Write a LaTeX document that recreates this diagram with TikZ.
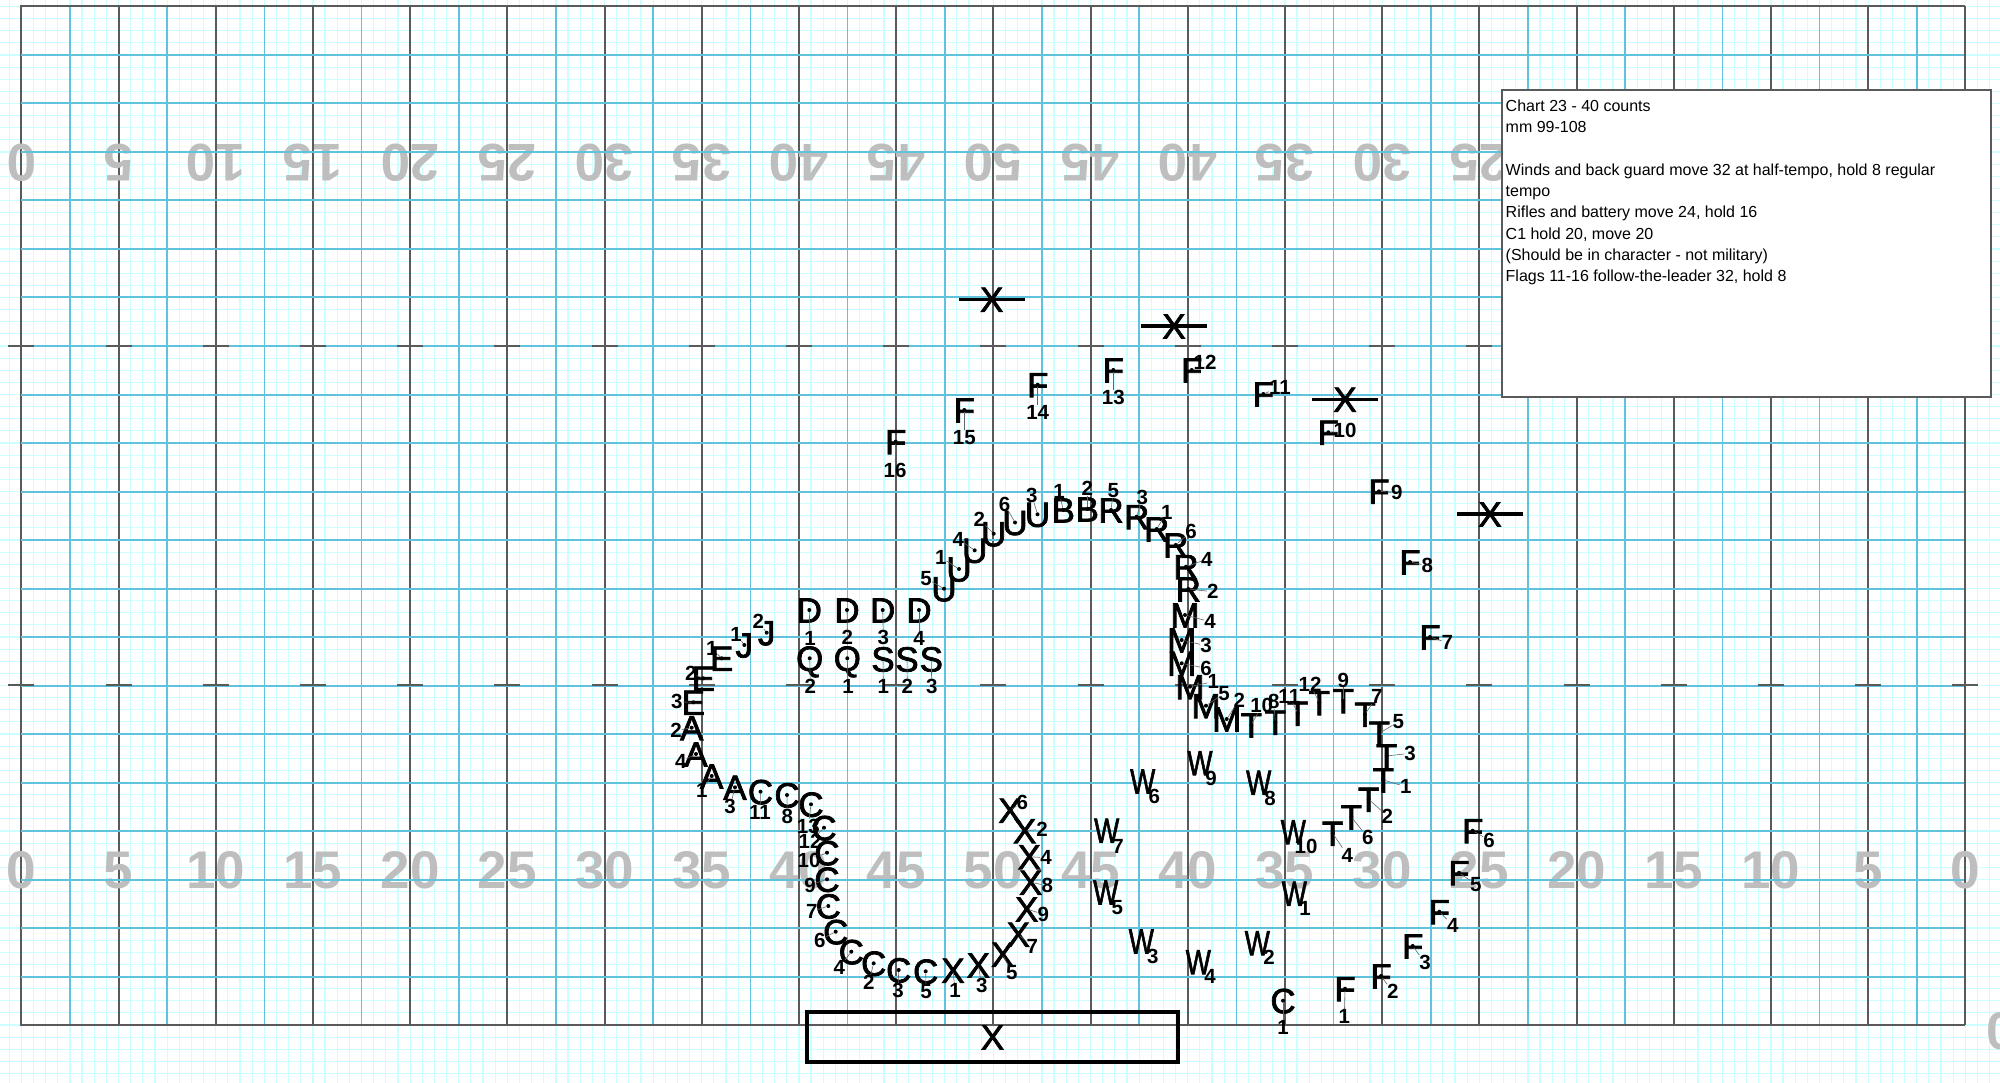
\documentclass[tikz,border=0pt]{standalone}
\usepackage{fontspec}
\setmainfont{Liberation Sans}
\newfontfamily\markfont[FakeBold=2]{Liberation Sans}
\definecolor{gridminor}{HTML}{CCFFFF}
\definecolor{gridmajor}{HTML}{60C2DC}
\definecolor{yardline}{HTML}{5A5A5A}
\definecolor{yardnum}{HTML}{BEBEBE}
\tikzset{
  glyph/.style={inner sep=0pt, text height=25pt, text depth=0pt, font=\fontsize{35}{35}\markfont},
  tag/.style={inner sep=0pt, font=\fontsize{20.5}{20.5}\selectfont\bfseries},
  yard/.style={inner sep=0pt, text=yardnum, font=\fontsize{53}{53}\selectfont\bfseries},
  spot/.style={circle, fill=black, inner sep=0pt, minimum size=4pt},
  leader/.style={draw=black!60, line width=.6pt},
  bar/.style={line width=3.5pt},
  guard/.style={glyph, minimum width=65.4pt}
}
% one marcher: name, spot x, spot y, letter, number x, number y, number
\newcommand{\marcher}[7]{%
  \node[spot] (#1) at (#2,#3) {};
  \node[glyph] at (#1) {#4};
  \node[tag] (#1n) at (#5,#6) {#7};
  \draw[leader] (#1) -- (#1n);
}
% winds have a narrow letter and no spot
\newcommand{\wind}[6]{%
  \node[glyph] (#1) at (#2,#3) {\scalebox{.76}[1]{W}};
  \node[tag] (#1n) at (#4,#5) {#6};
}
\begin{document}
\begin{tikzpicture}[x=1pt, y=-1pt]
  \useasboundingbox (0,0) rectangle (2000,1083);
  % minor grid
  \foreach \k in {-1,...,163}
    \draw[gridminor, line width=1.2pt] ({21.3+12.15*\k},0) -- ({21.3+12.15*\k},1083);
  \foreach \k in {0,...,88}
    \draw[gridminor, line width=1.2pt] (0,{6.5+12.125*\k}) -- (2000,{6.5+12.125*\k});
  % yard lines
  \foreach \k in {0,...,20}
    \draw[yardline, line width=2pt] ({21.3+97.2*\k},6.5) -- ({21.3+97.2*\k},1025);
  % yard numbers
  \foreach \n [count=\k from 0] in {0,5,10,15,20,25,30,35,40,45,50,45,40,35,30,25,20,15,10,5,0} {
    \node[yard] (low\k) at ({21.3+97.2*\k},870.5) {\n};
    \node[yard, rotate=180] (up\k) at ({21.3+97.2*\k},162.5) {\n};
  }
  \node[yard] (edge0) at (2001.5,1031) {0};
  % major grid
  \foreach \k in {0,...,19}
    \draw[gridmajor, line width=1.7pt] ({70+97.2*\k},6.5) -- ({70+97.2*\k},1025);
  \foreach \k in {1,...,20}
    \draw[gridmajor, line width=2pt] (21.3,{6.5+48.5*\k}) -- (1964,{6.5+48.5*\k});
  % hashes and field edges
  \foreach \k in {0,...,20} {
    \draw[yardline, line width=2.2pt] ({8.3+97.2*\k},346) -- ({34.3+97.2*\k},346);
    \draw[yardline, line width=2.2pt] ({8.3+97.2*\k},685) -- ({34.3+97.2*\k},685);
  }
  \draw[yardline, line width=2pt] (20.3,6.5) -- (1965.3,6.5);
  \draw[yardline, line width=2pt] (20.3,1025) -- (1965.3,1025);
  % chart note
  \node[draw=yardline, line width=2pt, fill=white, minimum width=489pt, minimum height=307pt, inner sep=0pt] (note) at (1746.5,243.5) {};
  \node[anchor=north west, inner sep=0pt, align=left, font=\fontsize{16}{21.3}\selectfont] (notetext) at (1505.5,99.5) {Chart 23 - 40 counts\\mm 99-108\\[21.3pt]Winds and back guard move 32 at half-tempo, hold 8 regular\\tempo\\Rifles and battery move 24, hold 16\\C1 hold 20, move 20\\(Should be in character - not military)\\Flags 11-16 follow-the-leader 32, hold 8};
  % podium
  \node[draw, line width=4pt, minimum width=371.6pt, minimum height=49.4pt, inner sep=0pt] (podium) at (992.5,1037) {};
  \node[glyph] (podiumX) at (podium) {X};
  % front guards with bars
  \node[guard] (G1) at (991.7,299.3) {X};
  \node[guard] (G2) at (1174,326) {X};
  \node[guard] (G3) at (1345,399.3) {X};
  \node[guard] (G4) at (1490,514) {X};
  \foreach \g in {G1,G2,G3,G4}
    \draw[bar] (\g.west) -- (\g.east);
  % flags
  \marcher{F1}{1345}{988.7}{F}{1344.3}{1016.7}{1}
  \marcher{F2}{1381}{976}{F}{1392.7}{991.7}{2}
  \marcher{F3}{1412.7}{946}{F}{1425}{962.7}{3}
  \marcher{F4}{1439.3}{911.7}{F}{1452.7}{925}{4}
  \marcher{F5}{1459}{872.7}{F}{1475.7}{884.3}{5}
  \marcher{F6}{1472.7}{830.7}{F}{1489}{840}{6}
  \marcher{F7}{1430}{637}{F}{1447.3}{642.7}{7}
  \marcher{F8}{1410}{562}{F}{1427.3}{565.7}{8}
  \marcher{F9}{1379}{491.3}{F}{1396.7}{492.7}{9}
  \marcher{F10}{1328.3}{432.3}{F}{1345}{430.7}{10}
  \marcher{F11}{1263.3}{394}{F}{1280}{387.3}{11}
  \marcher{F12}{1191.7}{370}{F}{1205}{362.7}{12}
  \marcher{F13}{1113.3}{370}{F}{1113.3}{397.7}{13}
  \marcher{F14}{1037.7}{384.7}{F}{1037.7}{412.3}{14}
  \marcher{F15}{964.3}{410}{F}{964.3}{437.3}{15}
  \marcher{F16}{895.7}{441.7}{F}{895}{470}{16}
  % winds
  \wind{W1}{1294.3}{893.3}{1305}{908.3}{1}
  \wind{W2}{1257.3}{942.7}{1269}{957.7}{2}
  \wind{W3}{1141.3}{941}{1152.7}{956.7}{3}
  \wind{W4}{1198.3}{961.7}{1210}{976.7}{4}
  \wind{W5}{1105.7}{892}{1117.3}{907.3}{5}
  \wind{W6}{1142.7}{781}{1154.3}{796.7}{6}
  \wind{W7}{1106.7}{830.3}{1118}{846}{7}
  \wind{W8}{1258.7}{782.3}{1270}{798.3}{8}
  \wind{W9}{1200}{762.7}{1211}{778.3}{9}
  \wind{W10}{1293.3}{831.7}{1306}{846.7}{10}
  % tubas
  \marcher{T1}{1383.3}{780}{T}{1405.7}{786.7}{1}
  \marcher{T2}{1368.7}{799.3}{T}{1387.3}{816}{2}
  \marcher{T3}{1386.7}{756}{T}{1410}{753.3}{3}
  \marcher{T4}{1332.7}{833.3}{T}{1347.3}{855}{4}
  \marcher{T5}{1379.3}{733.3}{T}{1398.3}{721.7}{5}
  \marcher{T6}{1351.3}{817}{T}{1367.7}{837.3}{6}
  \marcher{T7}{1365}{714.3}{T}{1376.7}{696.7}{7}
  \marcher{T8}{1275.3}{722.3}{T}{1273.7}{701.7}{8}
  \marcher{T9}{1343.3}{700.7}{T}{1343.3}{680}{9}
  \marcher{T10}{1251.3}{725}{T}{1261.7}{705.7}{10}
  \marcher{T11}{1297.7}{713.3}{T}{1289.3}{696}{11}
  \marcher{T12}{1319.3}{702.7}{T}{1310}{684}{12}
  % mellophones
  \marcher{M1}{1190}{686.7}{M}{1213.3}{681.7}{1}
  \marcher{M2}{1226.7}{719}{M}{1239.3}{700}{2}
  \marcher{M3}{1181.7}{640}{M}{1206}{645.7}{3}
  \marcher{M4}{1185}{615}{M}{1210}{621.7}{4}
  \marcher{M5}{1206}{705.7}{M}{1224}{693.3}{5}
  \marcher{M6}{1181.7}{663.3}{M}{1206}{668.3}{6}
  % rifles
  \marcher{R1}{1156.7}{529}{R}{1166.7}{512.3}{1}
  \marcher{R2}{1188.3}{589}{R}{1212.7}{591.7}{2}
  \marcher{R3}{1136.7}{516.7}{R}{1142.3}{497.3}{3}
  \marcher{R4}{1186}{566.7}{R}{1206.7}{559.3}{4}
  \marcher{R5}{1111}{510}{R}{1113.3}{491}{5}
  \marcher{R6}{1175.7}{545}{R}{1191}{531.7}{6}
  % baritones
  \marcher{B1}{1063.3}{510}{B}{1059}{491.7}{1}
  \marcher{B2}{1087.3}{509}{B}{1087.3}{488.3}{2}
  % upper arc
  \marcher{U3}{1037.5}{514.3}{U}{1031.7}{495}{3}
  \marcher{U6}{1015}{522.5}{U}{1004.5}{504}{6}
  \marcher{U2}{993.7}{533.7}{U}{979.3}{519.3}{2}
  \marcher{U4}{974.7}{550.3}{U}{958.3}{539}{4}
  \marcher{U1}{959}{569}{U}{940.7}{557.3}{1}
  \marcher{U5}{944}{588.7}{U}{926}{578.3}{5}
  \marcher{J1}{744.3}{645}{J}{736}{634}{1}
  \marcher{J2}{766.7}{632.7}{J}{758.3}{621.7}{2}
  % drums and saxes
  \marcher{D1}{809.3}{610}{D}{810}{638.3}{1}
  \marcher{D2}{847}{610}{D}{847.3}{637.7}{2}
  \marcher{D3}{882.7}{610}{D}{883.3}{637.7}{3}
  \marcher{D4}{919}{610}{D}{919}{638}{4}
  \marcher{Q2}{809.7}{658.3}{Q}{810.3}{686.7}{2}
  \marcher{Q1}{847.3}{658.3}{Q}{848}{686.7}{1}
  \marcher{S1}{883}{659}{S}{883.3}{686.7}{1}
  \marcher{S2}{907}{659}{S}{907.3}{686.7}{2}
  \marcher{S3}{931.3}{659}{S}{931.7}{686.7}{3}
  % left side
  \marcher{E1}{721.7}{658.3}{E}{711.7}{648.3}{1}
  \marcher{E2}{703.3}{678.3}{E}{690.7}{673.3}{2}
  \marcher{E3}{693.3}{702.3}{E}{676.7}{701.7}{3}
  \marcher{A2}{691.7}{727.7}{A}{676}{730.7}{2}
  \marcher{A4}{696}{754}{A}{680.7}{761.7}{4}
  \marcher{A1}{711.7}{776}{A}{701.7}{790.7}{1}
  \marcher{A3}{735}{787.3}{A}{730}{806.7}{3}
  % clarinets
  \marcher{C1}{1283}{1000.7}{C}{1283}{1027.7}{1}
  \marcher{C2}{873.7}{963.3}{C}{868.7}{982.3}{2}
  \marcher{C3}{898.7}{970}{C}{898}{990.7}{3}
  \marcher{C4}{851.3}{951.7}{C}{839.3}{967.3}{4}
  \marcher{C5}{925.7}{971.3}{C}{926}{991.7}{5}
  \marcher{C6}{835.7}{931.7}{C}{819.7}{940}{6}
  \marcher{C7}{828.3}{906}{C}{811.7}{911.7}{7}
  \marcher{C8}{787}{795}{C}{787.3}{816}{8}
  \marcher{C9}{827}{879.3}{C}{810}{885}{9}
  \marcher{C10}{827}{852.7}{C}{809}{860}{10}
  \marcher{C11}{760.5}{791.7}{C}{760}{812.7}{11}
  \marcher{C12}{824}{827.7}{C}{810}{841.7}{12}
  \marcher{C13}{811}{804.3}{C}{808.3}{826}{13}
  % back guard
  \marcher{X1}{953}{970.3}{X}{955}{990}{1}
  \marcher{X2}{1024.7}{830.7}{X}{1042}{829.3}{2}
  \marcher{X3}{978.3}{965}{X}{981.7}{985.7}{3}
  \marcher{X4}{1029.3}{856.7}{X}{1046}{857.7}{4}
  \marcher{X5}{1002.7}{954.3}{X}{1011.7}{972.7}{5}
  \marcher{X6}{1010}{810.3}{X}{1022.3}{802.3}{6}
  \marcher{X7}{1018.3}{934.3}{X}{1032.3}{946.7}{7}
  \marcher{X8}{1030.7}{882.3}{X}{1047.3}{885.7}{8}
  \marcher{X9}{1026.7}{909}{X}{1043.3}{914.3}{9}
\end{tikzpicture}
\end{document}
